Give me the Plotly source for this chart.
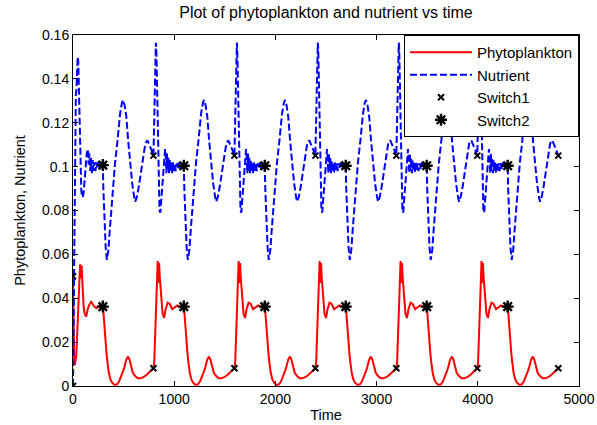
import plotly.graph_objects as go
import numpy as np

# ---------------- data ----------------
# switching instants
switch1_t = [795, 1595, 2395, 3195, 3995, 4795]
switch2_t = [295, 1095, 1895, 2695, 3495, 4295]

# initial transient (t = 0 .. first Switch2)
init_phyto_t = [0, 3, 7, 12, 18, 25, 32, 40, 48, 56, 64, 70, 75, 80, 85, 90, 97, 105, 115,
                130, 145, 160, 180, 205, 230, 255, 280, 295]
init_phyto = [0.05, 0.03, 0.016, 0.011, 0.0095, 0.011, 0.014, 0.022, 0.031, 0.042, 0.051,
              0.0555, 0.049, 0.054, 0.055, 0.05, 0.043, 0.036, 0.033, 0.0316, 0.035, 0.037,
              0.0384, 0.0365, 0.0355, 0.0365, 0.0362, 0.0362]

init_nut_t = [0, 5, 10, 16, 22, 28, 34, 40, 46, 52, 58, 64, 72, 82, 92, 102, 112, 124, 136,
              148, 155, 162, 170, 178, 186, 194, 202, 212, 222, 232, 244, 256, 268, 280, 295]
init_nut = [0.0, 0.03, 0.065, 0.1, 0.125, 0.133, 0.135, 0.142, 0.15, 0.148, 0.135, 0.115,
            0.098, 0.089, 0.086, 0.087, 0.092, 0.1, 0.106, 0.108, 0.101, 0.106, 0.098, 0.104,
            0.097, 0.103, 0.098, 0.102, 0.098, 0.102, 0.099, 0.1025, 0.099, 0.1015, 0.1007]

# phase A: from a Switch1 instant (offsets) to the next Switch2 (duration 300)
phA_phyto_off = [0, 8, 16, 30, 38, 42, 47, 52, 56, 62, 75, 90, 105, 120, 140, 160, 185, 210,
                 235, 260, 300]
phA_phyto = [0.0081, 0.011, 0.021, 0.037, 0.05, 0.057, 0.047, 0.052, 0.056, 0.05, 0.042,
             0.033, 0.031, 0.035, 0.038, 0.0375, 0.035, 0.0358, 0.0367, 0.0362, 0.0362]

phA_nut_off = [0, 6, 12, 18, 24, 28, 32, 38, 45, 52, 60, 68, 78, 90, 103, 115, 122, 128,
               134, 140, 147, 154, 161, 168, 176, 184, 192, 200, 210, 220, 230, 242, 255,
               268, 282, 300]
phA_nut = [0.105, 0.118, 0.135, 0.147, 0.1565, 0.154, 0.145, 0.13, 0.11, 0.092, 0.08,
           0.079, 0.085, 0.095, 0.104, 0.108, 0.104, 0.097, 0.106, 0.098, 0.104, 0.097,
           0.103, 0.098, 0.102, 0.097, 0.102, 0.098, 0.1015, 0.098, 0.1015, 0.099, 0.102,
           0.099, 0.1015, 0.1004]

# phase B: from a Switch2 instant (offsets) to the next Switch1 (duration 500)
phB_phyto_off = [0, 5, 12, 20, 27, 36, 45, 59, 75, 92, 116, 140, 160, 181, 200, 214, 230,
                 247, 262, 280, 296, 320, 345, 370, 400, 430, 460, 500]
phB_phyto = [0.0362, 0.034, 0.029, 0.024, 0.021, 0.015, 0.011, 0.006, 0.003, 0.0015,
             0.0005, 0.0008, 0.002, 0.0042, 0.0068, 0.0088, 0.0118, 0.0134, 0.0122, 0.009,
             0.006, 0.0045, 0.0035, 0.0035, 0.004, 0.005, 0.0065, 0.0081]

phB_nut_off = [0, 5, 15, 28, 40, 55, 70, 90, 105, 120, 145, 170, 188, 200, 215, 232, 250,
               270, 290, 310, 320, 335, 355, 390, 420, 440, 460, 480, 500]
phB_nut = [0.1004, 0.09, 0.075, 0.063, 0.0575, 0.062, 0.072, 0.0848, 0.0908, 0.1015, 0.112,
           0.124, 0.129, 0.1304, 0.128, 0.1228, 0.112, 0.1, 0.0924, 0.086, 0.084, 0.086,
           0.0908, 0.1015, 0.1106, 0.112, 0.11, 0.1076, 0.105]

# ---------------- assemble the series ----------------
def assemble(init_t, init_v, a_off, a_v, b_off, b_v):
    t = list(init_t)
    v = list(init_v)
    for i, s2 in enumerate(switch2_t):
        t += [s2 + o for o in b_off[1:]]
        v += list(b_v[1:])
        if i < len(switch1_t) - 1:
            s1 = switch1_t[i]
            t += [s1 + o for o in a_off[1:]]
            v += list(a_v[1:])
    return np.array(t, float), np.array(v, float)

p_t, p_v = assemble(init_phyto_t, init_phyto, phA_phyto_off, phA_phyto, phB_phyto_off, phB_phyto)
n_t, n_v = assemble(init_nut_t, init_nut, phA_nut_off, phA_nut, phB_nut_off, phB_nut)

def value_at(t_arr, v_arr, ts):
    return [float(v_arr[np.argmin(np.abs(t_arr - x))]) for x in ts]

s1_times = [0] + switch1_t
s1_x = s1_times + s1_times
s1_y = value_at(p_t, p_v, s1_times) + value_at(n_t, n_v, s1_times)
s2_x = switch2_t + switch2_t
s2_y = value_at(p_t, p_v, switch2_t) + value_at(n_t, n_v, switch2_t)

FONT = "Liberation Sans, Arial, sans-serif"

fig = go.Figure()
fig.add_trace(go.Scatter(x=p_t, y=p_v, mode="lines", name="Phytoplankton",
                         line=dict(color="#ff0000", width=2)))
fig.add_trace(go.Scatter(x=n_t, y=n_v, mode="lines", name="Nutrient",
                         line=dict(color="#0000ff", width=2, dash="7px,3px")))
fig.add_trace(go.Scatter(x=s1_x, y=s1_y, mode="markers", name="Switch1",
                         marker=dict(symbol="x-thin-open", size=6, color="black",
                                     line=dict(color="black", width=2))))
fig.add_trace(go.Scatter(x=s2_x, y=s2_y, mode="markers", name="Switch2",
                         marker=dict(symbol="asterisk-open", size=10, color="black",
                                     line=dict(color="black", width=2.4))))

ytv = [0, 0.02, 0.04, 0.06, 0.08, 0.1, 0.12, 0.14, 0.16]
ytt = ["0", "0.02", "0.04", "0.06", "0.08", "0.1", "0.12", "0.14", "0.16"]

axis_common = dict(ticks="inside", ticklen=5, tickcolor="black", showline=True,
                   linecolor="black", linewidth=1, mirror="ticks", showgrid=False,
                   zeroline=False, automargin=False, tickfont=dict(size=14))

fig.update_layout(
    width=597, height=425,
    margin=dict(l=73, r=18, t=35, b=39),
    paper_bgcolor="white", plot_bgcolor="white",
    font=dict(family=FONT, size=14, color="black"),
    title=dict(text="Plot of phytoplankton and nutrient vs time", xref="paper", x=0.5,
               xanchor="center", y=0.972, yanchor="middle", font=dict(size=16)),
    xaxis=dict(range=[0, 5000], tickvals=[0, 1000, 2000, 3000, 4000, 5000],
               title=dict(text="Time", standoff=4, font=dict(size=14.5)), **axis_common),
    yaxis=dict(range=[0, 0.16], tickvals=ytv, ticktext=ytt,
               title=dict(text="Phytoplankton, Nutrient", standoff=12, font=dict(size=14.5)),
               **axis_common),
    legend=dict(x=1, y=1, xanchor="right", yanchor="top", bgcolor="white",
                bordercolor="black", borderwidth=1, tracegroupgap=0, itemwidth=62,
                font=dict(size=15)),
    showlegend=True,
)

fig.write_html("out.html")
